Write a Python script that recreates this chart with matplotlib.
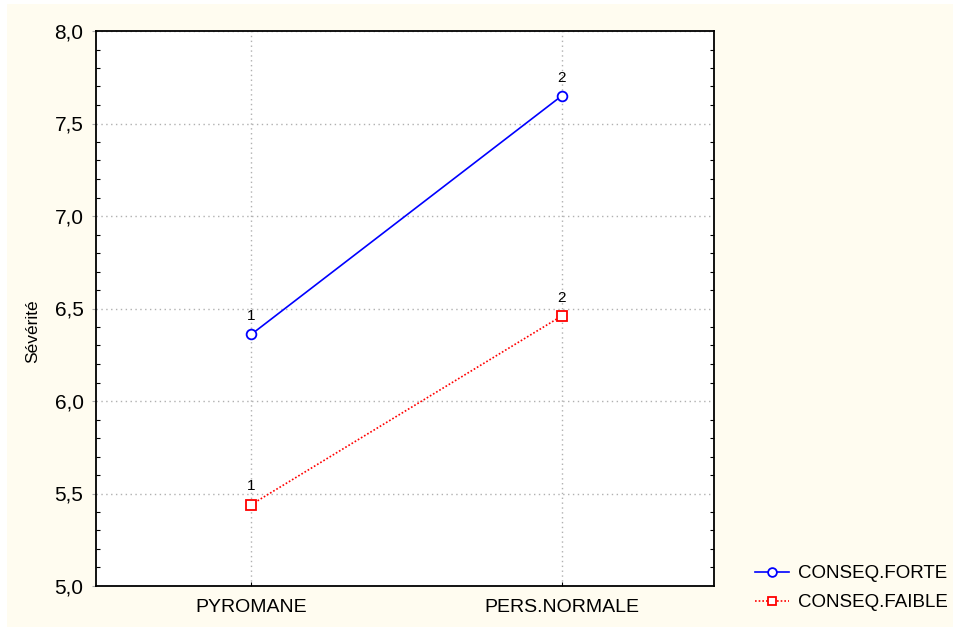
import matplotlib.pyplot as plt
from matplotlib.patches import Rectangle
from matplotlib.ticker import MultipleLocator, FuncFormatter

plt.rcParams['font.family'] = ['Liberation Sans', 'DejaVu Sans']

groups = ['PYROMANE', 'PERS.NORMALE']
forte = [6.36, 7.65]
faible = [5.44, 6.46]
point_labels = ['1', '2']

fig = plt.figure(figsize=(9.57, 6.31), dpi=100, facecolor='white')
fig.patches.append(Rectangle((7 / 957, 4 / 631), 946 / 957, 623 / 631,
                             transform=fig.transFigure, facecolor='#fffcf0',
                             edgecolor='none', zorder=-10))
ax = fig.add_axes([96 / 957, 45 / 631, 618 / 957, 555 / 631])
ax.set_facecolor('white')

x = [1, 2]
ax.plot(x, forte, color='#0000ff', lw=1.2, marker='o', ms=7, mfc='white',
        mec='#0000ff', mew=1.3, label='CONSEQ.FORTE', zorder=3)
ax.plot(x, faible, color='#ff0000', lw=1.2, ls=(0, (1, 1.2)), marker='s', ms=7,
        mfc='white', mec='#ff0000', mew=1.3, label='CONSEQ.FAIBLE', zorder=3)

for xi, yi, t in zip(x, forte, point_labels):
    ax.annotate(t, (xi, yi), xytext=(0, 8), textcoords='offset points',
                ha='center', va='bottom', fontsize=11)
for xi, yi, t in zip(x, faible, point_labels):
    ax.annotate(t, (xi, yi), xytext=(0, 8), textcoords='offset points',
                ha='center', va='bottom', fontsize=11)

ax.set_xlim(0.5, 2.49)
ax.set_ylim(5.0, 8.0)
ax.set_xticks(x)
ax.set_xticklabels(groups, fontsize=14)
ax.yaxis.set_major_locator(MultipleLocator(0.5))
ax.yaxis.set_minor_locator(MultipleLocator(0.1))
ax.yaxis.set_major_formatter(FuncFormatter(lambda v, p: f'{v:.1f}'.replace('.', ',')))
ax.tick_params(axis='y', labelsize=15, which='major', direction='out', length=3,
               color='#aaaaaa', pad=6)
ax.tick_params(axis='y', which='minor', direction='in', length=3, width=0.8,
               left=True, right=True)
ax.tick_params(axis='x', direction='in', length=3, pad=9)
ax.grid(True, which='major', color='#b0b0b0', ls=(0, (1, 2.5)), lw=1)
ax.set_ylabel('Sévérité', fontsize=12.5)
ax.yaxis.set_label_coords(-0.09, 0.46)
for s in ax.spines.values():
    s.set_linewidth(1.3)

fig.legend(loc='upper left', bbox_to_anchor=(755 / 957, 1 - 565 / 631),
           frameon=False, fontsize=13.5, handlelength=1.8, handletextpad=0.5,
           labelspacing=0.65, borderpad=0, borderaxespad=0, markerscale=0.9)

fig.savefig('out.png', dpi=100, facecolor=fig.get_facecolor())
